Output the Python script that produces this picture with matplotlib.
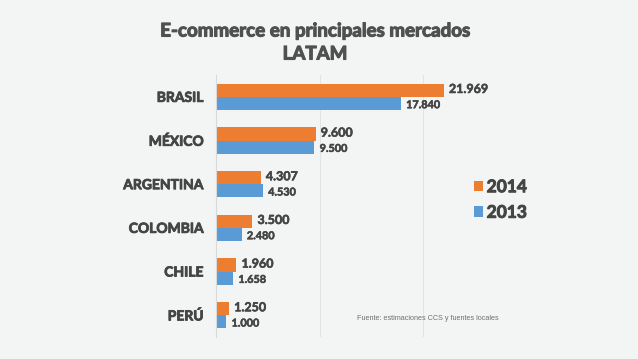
import matplotlib
matplotlib.use("Agg")
import matplotlib.pyplot as plt
import matplotlib.patheffects as pe
import numpy as np

categories = ["BRASIL", "MÉXICO", "ARGENTINA", "COLOMBIA", "CHILE", "PERÚ"]
values_2014 = [21969, 9600, 4307, 3500, 1960, 1250]
values_2013 = [17840, 9500, 4530, 2480, 1658, 1000]
labels_2014 = ["21.969", "9.600", "4.307", "3.500", "1.960", "1.250"]
labels_2013 = ["17.840", "9.500", "4.530", "2.480", "1.658", "1.000"]
series_names = ["2014", "2013"]

orange = "#ED7D31"
blue = "#5B9BD5"
bg = "#F3F4F4"
txt = "#454545"
W8 = "bold"


def heavy(color, lw=0.5):
    return [pe.withStroke(linewidth=lw, foreground=color)]


fig = plt.figure(figsize=(6.38, 3.59), dpi=100, facecolor=bg)
W, H = 638, 359
ax = fig.add_axes([216 / W, 1 - 337 / H, (527 - 216) / W, (337 - 75) / H])
ax.set_facecolor(bg)

y = np.arange(len(categories))
h = 0.3
b1 = ax.barh(y - h / 2, values_2014, height=h, color=orange, label=series_names[0])
b2 = ax.barh(y + h / 2, values_2013, height=h, color=blue, label=series_names[1])

for yi, v, lab in zip(y, values_2014, labels_2014):
    ax.text(v + 500, yi - h / 2 - 0.03, lab, va="center", ha="left",
            fontsize=9, fontweight=W8, color=txt, family="Lato", path_effects=heavy(txt, 0.4))
for yi, v, lab in zip(y, values_2013, labels_2013):
    ax.text(v + 500, yi + h / 2 + 0.03, lab, va="center", ha="left",
            fontsize=7.8, fontweight=W8, color=txt, family="Lato", path_effects=heavy(txt, 0.4))

ax.set_xlim(0, 30000)
ax.set_ylim(len(categories) - 0.5, -0.5)
ax.set_yticks(y)
ax.set_yticklabels(categories, fontsize=10, fontweight=W8, color=txt, family="Lato")
for t in ax.get_yticklabels():
    t.set_path_effects(heavy(txt, 0.6))
ax.tick_params(axis="y", length=0, pad=9)
ax.set_xticks([10000, 20000, 30000])
ax.tick_params(axis="x", length=0, labelbottom=False)
ax.grid(axis="x", color="#E2E4E4", linewidth=0.8)
ax.set_axisbelow(True)
for s in ["top", "right", "bottom"]:
    ax.spines[s].set_visible(False)
ax.spines["left"].set_color("#D8DADA")
ax.spines["left"].set_linewidth(0.8)

leg = ax.legend(handles=[b1, b2], loc="center left", bbox_to_anchor=((458 - 216) / (527 - 216), 0.523),
                frameon=False, handlelength=0.55, handleheight=0.55,
                handletextpad=0.2, labelspacing=0.55, prop={"family": "Lato", "weight": W8, "size": 12.5})
for t in leg.get_texts():
    t.set_color(txt)
    t.set_path_effects(heavy(txt, 0.7))

fig.text(315 / W, 1 - 31 / H, "E-commerce en principales mercados", ha="center", va="center",
         fontsize=13.5, fontweight=W8, color="#505050", family="Lato", path_effects=heavy("#505050", 0.8))
fig.text(315 / W, 1 - 54 / H, "LATAM", ha="center", va="center",
         fontsize=13.5, fontweight=W8, color="#505050", family="Lato", path_effects=heavy("#505050", 0.8))

fig.text(357 / W, 1 - 318 / H, "Fuente: estimaciones CCS y fuentes locales", ha="left", va="center",
         fontsize=5.2, color="#707070", family="Liberation Sans")

fig.savefig("out.png", dpi=100, facecolor=bg)
